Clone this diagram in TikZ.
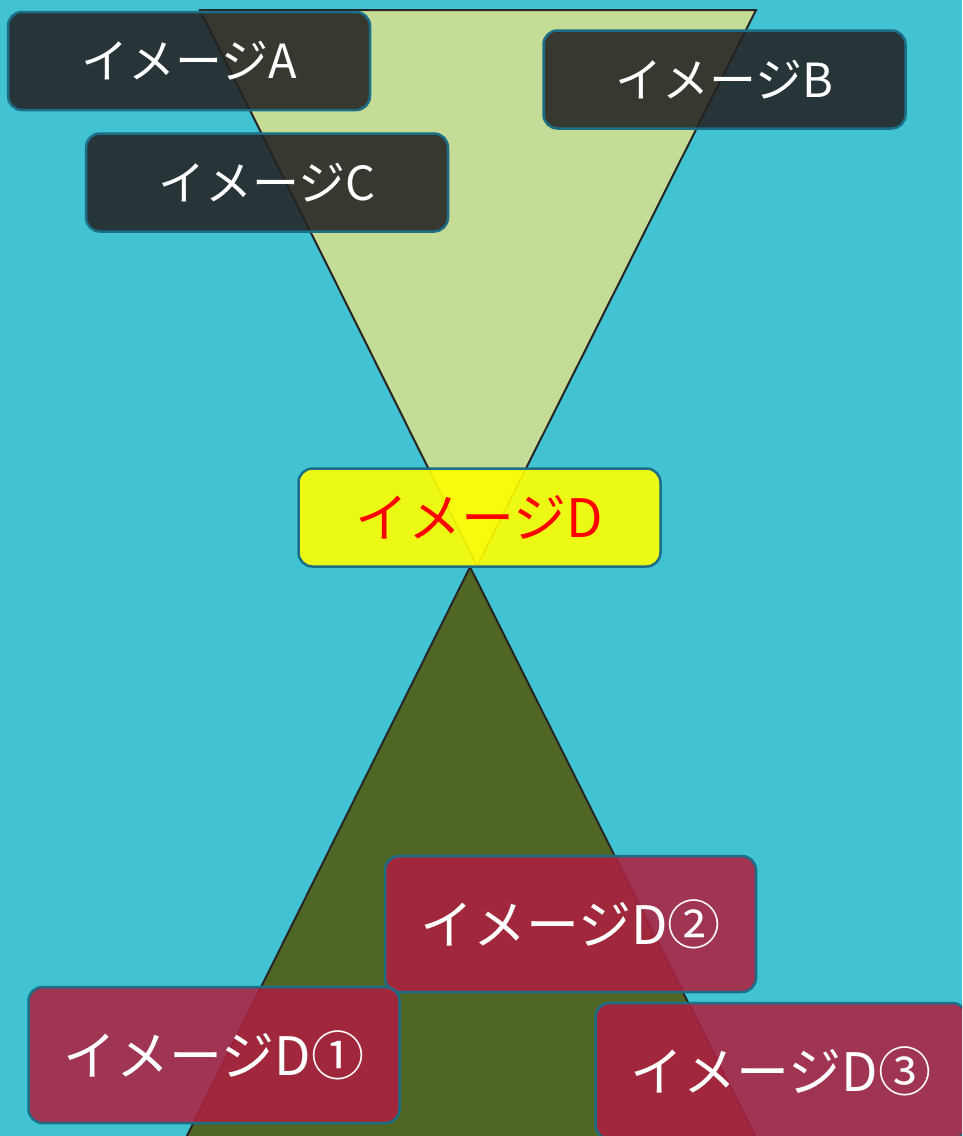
\documentclass[tikz,border=0pt]{standalone}
\usepackage{fontspec}
\newfontfamily\jp{Noto Sans CJK JP}
\definecolor{bg}{HTML}{42C3D3}
\definecolor{upg}{HTML}{C5DC96}
\definecolor{olive}{HTML}{4F6624}
\definecolor{trid}{HTML}{262626}
\definecolor{bordc}{HTML}{1B6E86}
\definecolor{darkc}{HTML}{242223}
\definecolor{redc}{HTML}{AE1F40}
\definecolor{yelc}{HTML}{FFFF00}
\begin{document}
\begin{tikzpicture}[x=1pt,y=-1pt,
  box/.style={rounded corners=14pt, draw=bordc, line width=2.5pt, inner sep=0pt, text opacity=1, align=center},
  darkbox/.style={box, fill=darkc, fill opacity=0.88, text=white, minimum width=362pt, minimum height=98pt, font=\jp\fontsize{47}{52}\selectfont},
  yelbox/.style={box, fill=yelc, fill opacity=0.9, text=red, minimum width=362pt, minimum height=98pt, font=\jp\fontsize{53}{58}\selectfont},
  redbox/.style={box, fill=redc, fill opacity=0.87, text=white, minimum width=371pt, minimum height=136pt, font=\jp\fontsize{53}{58}\selectfont},
  tri/.style={draw=trid, line width=2pt, line join=miter}
]
\useasboundingbox (0,0) rectangle (962,1136);
\fill[bg] (0,0) rectangle (962,1136);
\clip (0,0) rectangle (962,1136);
% triangles
\filldraw[tri, fill=upg] (200,10) -- (756,10) -- (477,566) -- cycle;
\filldraw[tri, fill=olive] (470,567) -- (184,1142) -- (758,1142) -- cycle;
% boxes
\node[darkbox] (A) at (189,61) {イメージA};
\node[darkbox] (B) at (724.5,79.5) {イメージB};
\node[darkbox] (C) at (267,182.5) {イメージC};
\node[yelbox] (D) at (479.5,517.5) {イメージD};
\node[redbox] (D2) at (570.5,924) {イメージD②};
\node[redbox] (D1) at (214,1055) {イメージD①};
\node[redbox] (D3) at (781,1071) {イメージD③};
\end{tikzpicture}
\end{document}
